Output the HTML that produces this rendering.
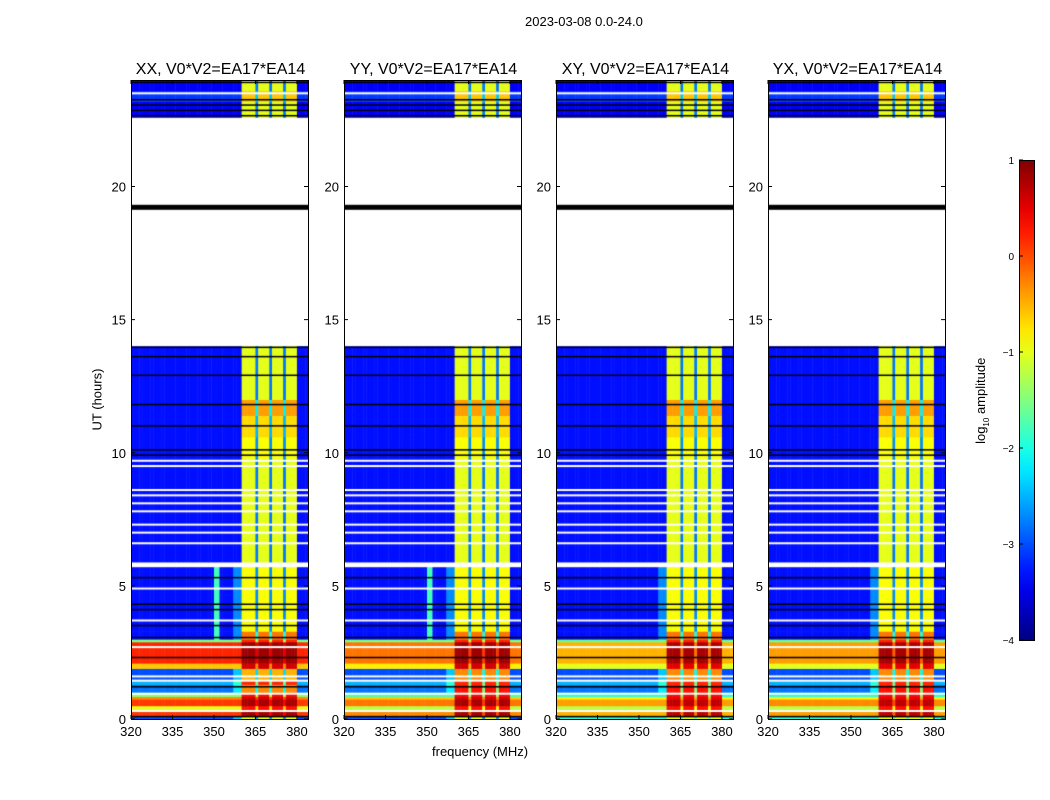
<!DOCTYPE html>
<html><head><meta charset="utf-8">
<style>
body{margin:0;background:#fff;font-family:"Liberation Sans",sans-serif;}
#root{position:relative;width:1050px;height:800px;overflow:hidden;background:#fff;}
.t{position:absolute;font-size:13px;color:#000;white-space:nowrap;}
canvas{position:absolute;}
</style></head>
<body>
<div id="root">
<div class="t" style="left:525px;top:14px;">2023-03-08 0.0-24.0</div>
<div class="t" style="left:432px;top:744px;">frequency (MHz)</div>
<div class="t" style="left:62px;top:392px;transform:rotate(-90deg);transform-origin:center;width:70px;text-align:center;">UT (hours)</div>
<div class="t" style="left:932px;top:392px;transform:rotate(-90deg);width:100px;text-align:center;">log<sub style="font-size:8px">10</sub> amplitude</div>
<svg id="ov" width="1050" height="800" style="position:absolute;left:0;top:0"></svg>
</div>
<script>
// ---- data ----
const channels = [320,384]; // MHz range, 1 MHz channels
const bandStart = 360, bandEnd = 380;
const bandGaps = [365,370,375];
const spur = [350,351];
const spurHours = [3.0,6.5];
const panelNames = ["XX, V0*V2=EA17*EA14","YY, V0*V2=EA17*EA14","XY, V0*V2=EA17*EA14","YX, V0*V2=EA17*EA14"];
// segments: start hour, end hour, background log amp, band log amp (null = no data)
const segCommon = [
 [3.0,3.3,-3.3,-0.2],[3.3,5.7,-3.3,-0.9],[5.7,5.9,null,null],[5.9,9.8,-3.3,-1.0],
 [9.8,10.6,-3.3,-0.9],[10.6,11.4,-3.3,-0.7],[11.4,12.0,-3.3,-0.4],[12.0,14.0,-3.3,-1.0],
 [14.0,22.6,null,null],[22.6,23.2,-3.4,-1.0],[23.2,23.6,-3.1,-0.6],[23.6,24,-3.4,-1.0]];
const segBottom = [
 [[0,0.1,-3.0,-1.0],[0.1,0.35,0.1,0.8],[0.35,0.5,-1.0,0.3],[0.5,0.75,0.1,0.8],[0.75,0.85,-0.3,0.6],[0.85,1.0,-1.5,0.4],[1.0,1.3,-2.8,-0.3],[1.3,1.4,-2.5,0.2],[1.4,1.5,null,null],[1.5,1.9,-3.0,-0.5],[1.9,2.1,-0.6,0.6],[2.1,2.9,0.2,0.85],[2.9,3.0,-1.5,0.2]],
 [[0,0.1,-3.0,-1.0],[0.1,0.35,-0.3,0.8],[0.35,0.5,-1.2,0.3],[0.5,0.75,-0.2,0.8],[0.75,0.85,-0.6,0.6],[0.85,1.0,-1.8,0.4],[1.0,1.3,-2.8,0.3],[1.3,1.4,-2.5,0.2],[1.4,1.5,null,null],[1.5,1.9,-3.0,-0.3],[1.9,2.1,-0.8,0.6],[2.1,2.9,-0.2,0.85],[2.9,3.0,-1.5,0.2]],
 [[0,0.1,-2.0,-1.0],[0.1,0.35,-0.5,0.7],[0.35,0.5,-1.2,0.3],[0.5,0.75,-0.4,0.7],[0.75,0.85,-0.8,0.5],[0.85,1.0,-2.0,0.4],[1.0,1.3,-2.8,0.3],[1.3,1.4,-2.5,0.2],[1.4,1.5,null,null],[1.5,1.9,-3.0,-0.3],[1.9,2.1,-1.0,0.5],[2.1,2.9,-0.5,0.8],[2.9,3.0,-1.6,0.2]],
 [[0,0.1,-2.0,-1.0],[0.1,0.35,-0.4,0.7],[0.35,0.5,-1.2,0.3],[0.5,0.75,-0.3,0.7],[0.75,0.85,-0.8,0.5],[0.85,1.0,-2.0,0.4],[1.0,1.3,-2.8,0.3],[1.3,1.4,-2.5,0.2],[1.4,1.5,null,null],[1.5,1.9,-3.0,-0.3],[1.9,2.1,-1.0,0.5],[2.1,2.9,-0.4,0.8],[2.9,3.0,-1.6,0.2]]];
const blackLines = [0.08,1.2,2.3,3.05,3.5,4.1,4.3,5.3,9.9,10.1,11.0,11.8,12.9,13.6,13.95,22.65,22.85,23.05,23.25,23.9];
const thickLines = [19.2];
const whiteLines = [0.3,0.95,1.6,2.7,3.7,4.9,6.6,7.0,7.3,7.8,8.1,8.4,8.6,9.5,9.7,23.5];
const yTicks = [0,5,10,15,20];
const xTicks = [320,335,350,365,380];
const cbTicks = [1,0,-1,-2,-3,-4];
// ---- layout ----
const panelX = [131,344,556,768], PW=177, PT=80, PB=719;
const xs=(f,i)=>panelX[i]+(f-channels[0])/(channels[1]-channels[0])*PW;
const ys=h=>PB-h/24*(PB-PT);
const vmin=-4,vmax=1;
function jet(v){let t=Math.max(0,Math.min(1,(v-vmin)/(vmax-vmin)));
 const c=x=>Math.round(255*Math.max(0,Math.min(1,1.5-Math.abs(4*t-x))));
 return `rgb(${c(3)},${c(2)},${c(1)})`;}
const root=document.getElementById('root'), ov=document.getElementById('ov');
const NS="http://www.w3.org/2000/svg";
function svg(tag,attrs,name){const e=document.createElementNS(NS,tag);for(const k in attrs)e.setAttribute(k,attrs[k]);
 
 
 ov.appendChild(e);return e;}
function txt(s,x,y,anchor,size,name){const e=svg('text',{x:x,y:y,'text-anchor':anchor,'font-size':size,'font-family':'Liberation Sans, sans-serif'},name);e.textContent=s;return e;}
for(let p=0;p<4;p++){
 const cv=document.createElement('canvas');cv.width=PW;cv.height=PB-PT;
 cv.style.left=panelX[p]+'px';cv.style.top=PT+'px';
 
 
 root.insertBefore(cv,ov);
 const g=cv.getContext('2d');
 const segs=segBottom[p].concat(segCommon);
 for(const s of segs){
  if(s[2]===null)continue;
  const y0=ys(s[1])-PT,y1=ys(s[0])-PT;
  for(let f=channels[0];f<channels[1];f++){
   let v=s[2];
   if(f>=bandStart&&f<bandEnd){v=bandGaps.includes(f)?Math.max(s[2]+0.3,s[3]-1.8):s[3];}
   else if(f>=spur[0]&&f<=spur[1]&&s[0]>=spurHours[0]&&s[1]<=spurHours[1]&&p<2)v=-1.8;
   else if(f>=bandStart-3&&f<bandStart&&s[2]<-2&&s[0]<3.5)v=s[2]+0.6;
   g.fillStyle=jet(v);
   const xa=xs(f,p)-panelX[p],xb=xs(f+1,p)-panelX[p];
   g.fillRect(xa,y0,xb-xa+0.5,y1-y0+0.5);
  }
 }
 for(const h of whiteLines){g.fillStyle='#fff';g.fillRect(0,ys(h)-PT-1,PW,2);}
 for(const h of blackLines){g.fillStyle='#000';g.fillRect(0,ys(h)-PT-1,PW,1.5);}
 for(const h of thickLines){g.fillStyle='#000';g.fillRect(0,ys(h)-PT-3,PW,5);}
 svg('rect',{x:panelX[p]+0.5,y:PT+0.5,width:PW,height:PB-PT,fill:'none',stroke:'#000','stroke-width':1},'panel-frame');
 txt(panelNames[p],panelX[p]+PW/2+1,74,'middle',16,'panel-title');
 for(const t of xTicks){const x=xs(t,p);
  svg('line',{x1:x,x2:x,y1:PB,y2:PB-4,stroke:'#000'},'x-tick');
  svg('line',{x1:x,x2:x,y1:PT,y2:PT+4,stroke:'#000'},'x-tick');
  txt(String(t),x,736,'middle',13,'x-tick-label');}
 for(const t of yTicks){const y=ys(t);
  svg('line',{x1:panelX[p],x2:panelX[p]+4,y1:y,y2:y,stroke:'#000'},'y-tick');
  svg('line',{x1:panelX[p]+PW-4,x2:panelX[p]+PW,y1:y,y2:y,stroke:'#000'},'y-tick');
  txt(String(t),panelX[p]-5,y+5,'end',13,'y-tick-label');}
}
// colorbar
const CBX=1019,CBW=15,CBT=160,CBB=640;
const defs=svg('defs',{},'colorbar-defs');
const lg=document.createElementNS(NS,'linearGradient');lg.setAttribute('id','cbg');lg.setAttribute('x1','0');lg.setAttribute('y1','1');lg.setAttribute('x2','0');lg.setAttribute('y2','0');
for(let i=0;i<=20;i++){const st=document.createElementNS(NS,'stop');st.setAttribute('offset',i/20);st.setAttribute('stop-color',jet(vmin+(vmax-vmin)*i/20));lg.appendChild(st);}
defs.appendChild(lg);
svg('rect',{x:CBX+0.5,y:CBT+0.5,width:CBW,height:CBB-CBT,fill:'url(#cbg)',stroke:'#000'},'colorbar');
for(const t of cbTicks){const y=CBT+(vmax-t)/(vmax-vmin)*(CBB-CBT);
 svg('line',{x1:CBX,x2:CBX+4,y1:y,y2:y,stroke:'#000'},'colorbar-tick');
 txt(t<0?'\u2212'+(-t):String(t),1014,y+4,'end',10,'colorbar-tick-label');}
</script>
</body></html>
